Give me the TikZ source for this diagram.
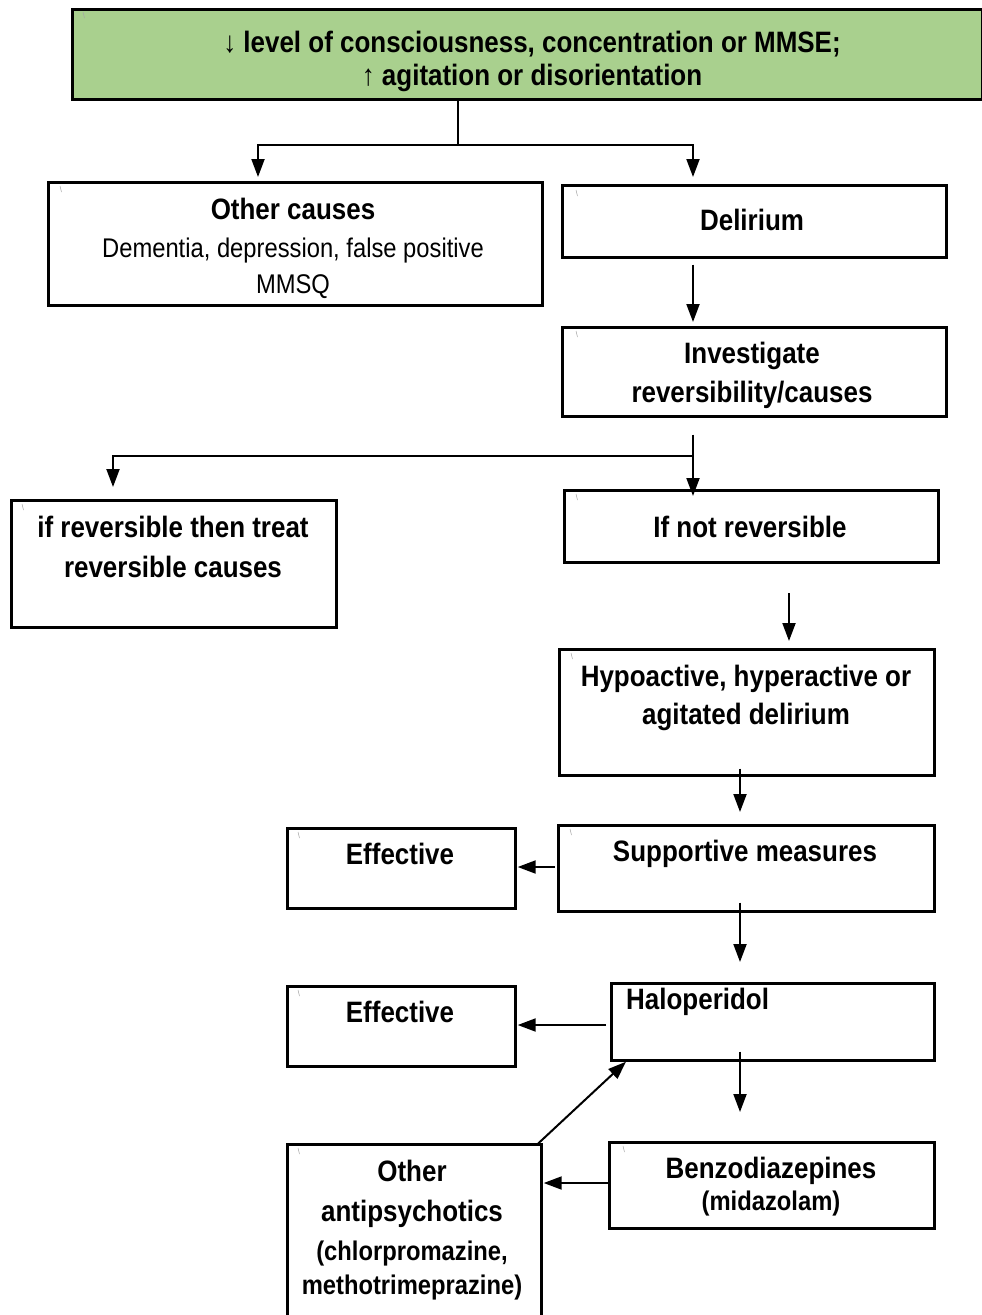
\documentclass[tikz,border=0pt]{standalone}
\usepackage{fontspec}
\setmainfont{Liberation Sans}[FakeStretch=0.88]
\usetikzlibrary{arrows.meta}
\definecolor{topgreen}{RGB}{169,208,142}
\tikzset{
  box/.style={draw, line width=2.7pt, inner sep=0pt, anchor=north west},
  lbl/.style={anchor=base, inner sep=0pt, font=\fontsize{29.5}{33}\selectfont\bfseries},
  rlbl/.style={anchor=base, inner sep=0pt, font=\fontsize{27}{32}\selectfont},
  slbl/.style={anchor=base, inner sep=0pt, font=\fontsize{27}{30}\selectfont\bfseries},
  conn/.style={line width=2pt},
  arr/.style={conn, -{Triangle[length=18pt,width=13pt]}},
  tick/.style={draw=gray!70, line width=0.5pt}
}
\begin{document}
\begin{tikzpicture}[x=1pt,y=-1pt]
\useasboundingbox (0,0) rectangle (982,1315);

% boxes
\node[box, fill=topgreen, minimum width=910, minimum height=90] (top) at (71,8) {};
\node[box, minimum width=494, minimum height=123] (oc) at (47,181) {};
\node[box, minimum width=384, minimum height=72] (del) at (561,184) {};
\node[box, minimum width=384, minimum height=89] (inv) at (561,326) {};
\node[box, minimum width=325, minimum height=127] (rev) at (10,499) {};
\node[box, minimum width=374, minimum height=72] (nrev) at (563,489) {};
\node[box, minimum width=375, minimum height=126] (hyp) at (558,648) {};
\node[box, minimum width=376, minimum height=86] (sup) at (557,824) {};
\node[box, minimum width=228, minimum height=80] (eff1) at (286,827) {};
\node[box, minimum width=323, minimum height=77] (hal) at (610,982) {};
\node[box, minimum width=228, minimum height=80] (eff2) at (286,985) {};
\node[box, minimum width=325, minimum height=86] (ben) at (608,1141) {};
\node[box, minimum width=254, minimum height=180] (oth) at (286,1143) {};

% small marks
\foreach \x/\y in {83/12, 60/186, 576/190, 576/331, 22/504, 576/494, 571/653, 570/829, 298/832, 298/990, 623/1146, 298/1148} {
  \draw[tick] (\x,\y) -- ++(1.5,6);
}

% texts
\node[lbl] (t1) at (532,52) {↓ level of consciousness, concentration or MMSE;};
\node[lbl] (t2) at (532,85) {↑ agitation or disorientation};
\node[lbl] (t3) at (293,219) {Other causes};
\node[rlbl] (t4) at (293,257) {Dementia, depression, false positive};
\node[rlbl] (t5) at (293,293) {MMSQ};
\node[lbl] (t6) at (752,230) {Delirium};
\node[lbl] (t7) at (752,363) {Investigate};
\node[lbl] (t8) at (752,402) {reversibility/causes};
\node[lbl] (t9) at (173,537) {if reversible then treat};
\node[lbl] (t10) at (173,577) {reversible causes};
\node[lbl] (t11) at (750,537) {If not reversible};
\node[lbl] (t12) at (746,686) {Hypoactive, hyperactive or};
\node[lbl] (t13) at (746,724) {agitated delirium};
\node[lbl] (t14) at (745,861) {Supportive measures};
\node[lbl] (t15) at (400,864) {Effective};
\node[lbl, anchor=base west] (t16) at (626,1009) {Haloperidol};
\node[lbl] (t17) at (400,1022) {Effective};
\node[lbl] (t18) at (771,1178) {Benzodiazepines};
\node[slbl] (t19) at (771,1210) {(midazolam)};
\node[lbl] (t20) at (412,1181) {Other};
\node[lbl] (t21) at (412,1221) {antipsychotics};
\node[slbl] (t22) at (412,1260) {(chlorpromazine,};
\node[slbl] (t23) at (412,1294) {methotrimeprazine)};

% connector helper coordinates
\coordinate (j1) at (458,145);
\coordinate (a1) at (258,177);
\coordinate (a2) at (693,177);
\coordinate (x693) at (693,0);
\coordinate (j2) at (693,456);
\coordinate (a3) at (113,487);
\coordinate (x789a) at (789,593);
\coordinate (x789b) at (789,641);
\coordinate (x740) at (740,0);
\coordinate (y867) at (0,867);
\coordinate (y1025) at (0,1025);
\coordinate (y1183) at (0,1183);

% connectors
\draw[conn] (top.south -| j1) -- (j1);
\draw[arr] (j1) -| (a1);
\draw[arr] (j1) -| (a2);
\draw[arr, shorten <=6pt, shorten >=4pt] (del.south -| x693) -- (inv.north -| x693);
\draw[conn, shorten <=17pt] (inv.south -| x693) -- (j2);
\draw[arr, shorten >=-7pt] (j2) -- (nrev.north -| x693);
\draw[arr] (j2) -| (a3);
\draw[arr] (x789a) -- (x789b);
\draw[arr, shorten <=-8pt, shorten >=12pt] (hyp.south -| x740) -- (sup.north -| x740);
\draw[arr, shorten >=1pt, shorten <=2pt] (sup.west |- y867) -- (eff1.east |- y867);
\draw[arr, shorten <=-10pt, shorten >=20pt] (sup.south -| x740) -- (hal.north -| x740);
\draw[arr, shorten <=4pt, shorten >=1pt] (hal.west |- y1025) -- (eff2.east |- y1025);
\draw[arr, shorten <=-10pt, shorten >=29pt] (hal.south -| x740) -- (ben.north -| x740);
\draw[arr, shorten >=1pt] (ben.west |- y1183) -- (oth.east |- y1183);
\draw[arr, shorten <=-1pt] ([xshift=-4pt]oth.north east) -- ([xshift=16pt]hal.south west);
\end{tikzpicture}
\end{document}
